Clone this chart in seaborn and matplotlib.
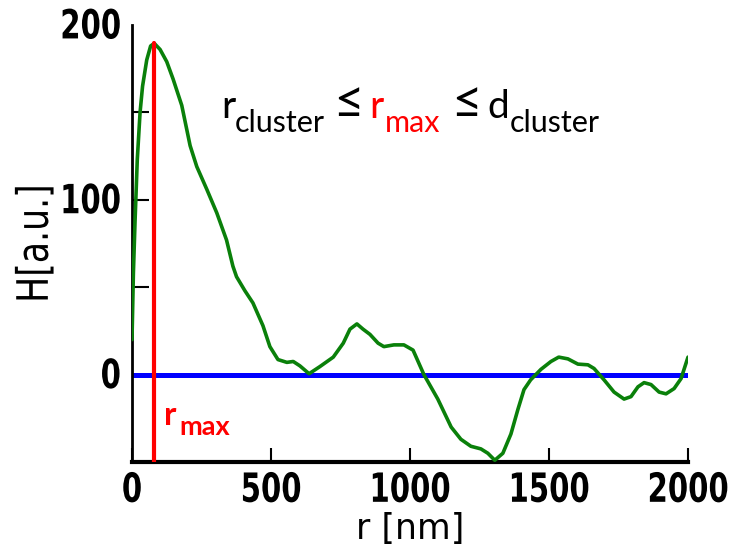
import matplotlib
matplotlib.use("Agg")
import matplotlib.pyplot as plt
import seaborn as sns
import pandas as pd
from matplotlib.patheffects import AbstractPathEffect
from matplotlib.transforms import Affine2D

# ---- data ----
r_nm = [0, 5, 11, 19, 29, 38, 53, 67, 80, 101, 125, 148, 179, 209, 233, 269,
        305, 340, 363, 376, 406, 435, 471, 496, 525, 557, 580, 604, 637, 676,
        724, 760, 784, 809, 831, 856, 885, 906, 942, 978, 1011, 1050, 1100,
        1148, 1183, 1219, 1255, 1280, 1305, 1334, 1363, 1388, 1410, 1434, 1471,
        1507, 1535, 1568, 1604, 1640, 1662, 1698, 1734, 1770, 1795, 1820, 1842,
        1867, 1896, 1921, 1950, 1975, 2000]
H_au = [20, 58, 88, 123, 150, 165, 180, 188, 189.5, 186, 179, 169, 154, 131,
        119, 106, 92.5, 77, 62, 56, 48, 41, 28, 16, 8.6, 7, 7.5, 5, 0.5, 4.6,
        10, 18, 26, 29, 26, 23, 18, 16, 17, 17, 14, 0, -14,
        -30, -37, -41, -42.5, -45, -49, -45, -34, -20, -8.6, -3, 3,
        7.5, 10, 9, 6, 5.6, 3.5, -3, -10, -14, -12.6, -7, -4.6,
        -5.7, -10, -11, -8, -2.3, 10]
r_max = 80
H_peak = 189.5
zero_x = [0, 2000]
zero_y = [0, 0]

x_ticks = [0, 500, 1000, 1500, 2000]
y_ticks = [0, 50, 100, 150, 200]
y_ticklabels = ["0", "", "100", "", "200"]

sns.set_style("ticks")
plt.rcParams["font.family"] = ["DejaVu Sans"]
plt.rcParams["text.color"] = "black"
plt.rcParams["axes.labelcolor"] = "black"
plt.rcParams["xtick.color"] = "black"
plt.rcParams["ytick.color"] = "black"


class StretchY(AbstractPathEffect):
    """Stretch glyphs vertically about a reference height (glyph units)."""

    def __init__(self, sy, y0):
        super().__init__()
        self.sy = sy
        self.y0 = y0

    def draw_path(self, renderer, gc, tpath, affine, rgbFace=None):
        tr = Affine2D().translate(0, -self.y0).scale(1, self.sy).translate(0, self.y0)
        renderer.draw_path(gc, tpath, tr + affine, rgbFace)


W, H = 742, 552
fig = plt.figure(figsize=(W / 100, H / 100), dpi=100)
ax = fig.add_axes([132 / W, 1 - 462 / H, (688 - 132) / W, (462 - 25) / H])

df = pd.DataFrame({"r": r_nm, "H": H_au})
sns.lineplot(data=df, x="r", y="H", ax=ax, color="#0a800a", lw=2.6, zorder=3)
sns.lineplot(x=zero_x, y=zero_y, ax=ax, color="#0000ff", lw=3.6, zorder=2)
ax.plot([r_max, r_max], [-50, H_peak], color="#ff0000", lw=3, zorder=4)

ax.set_xlim(0, 2000)
ax.set_ylim(-50, 200)
ax.set_xticks(x_ticks)
ax.set_xticklabels([str(t) for t in x_ticks])
ax.set_yticks(y_ticks)
ax.set_yticklabels(y_ticklabels)
ax.yaxis.get_major_ticks()[-1].tick1line.set_visible(False)

for lab in ax.get_xticklabels():
    lab.set_fontweight("bold")
    lab.set_fontsize(21)
    lab.set_path_effects([StretchY(1.38, 73)])
for lab in ax.get_yticklabels():
    lab.set_fontweight("bold")
    lab.set_fontsize(21)
    lab.set_path_effects([StretchY(1.38, 22)])
ax.tick_params(axis="x", direction="in", length=10, width=1.5, pad=7)
ax.tick_params(axis="y", direction="in", length=12, width=1.5, pad=8)

sns.despine(ax=ax)
ax.spines["bottom"].set_linewidth(3)
ax.spines["left"].set_linewidth(2)
ax.spines["bottom"].set_color("black")
ax.spines["left"].set_color("black")

ax.set_xlabel("r [nm]", fontsize=25, labelpad=9)
ax.set_ylabel("H[a.u.]", fontsize=25, labelpad=6)
ax.yaxis.label.set_path_effects([StretchY(1.25, 35)])

renderer = fig.canvas.get_renderer()


def place_pieces(pieces, base_px, main_fs, sub_fs, sub_drop):
    for txt, x_px, kind, col, weight in pieces:
        y = base_px + (sub_drop if kind == "sub" else 0)
        fs = {"main": main_fs, "sub": sub_fs, "rel": main_fs * 1.35}[kind]
        fig.text(x_px / W, 1 - y / H, txt, fontsize=fs,
                 color=col, family=["Lato", "DejaVu Sans"], fontweight=weight,
                 va="baseline", ha="left")


# r_max label (bold red)
place_pieces([("r", 164, "main", "#ff0000", "bold"),
              ("max", 179, "sub", "#ff0000", "bold")], 425, 24, 19.5, 10)

# main annotation
pieces = [("r", 221, "main", "black", "normal"),
          ("cluster", 235, "sub", "black", "normal"),
          ("\u2264", 333, "rel", "black", "normal"),
          ("r", 369, "main", "#ff0000", "normal"),
          ("max", 385, "sub", "#ff0000", "normal"),
          ("\u2264", 451, "rel", "black", "normal"),
          ("d", 487, "main", "black", "normal"),
          ("cluster", 510, "sub", "black", "normal")]
place_pieces(pieces, 118, 28, 22, 14)

fig.savefig("out.png", dpi=100)
